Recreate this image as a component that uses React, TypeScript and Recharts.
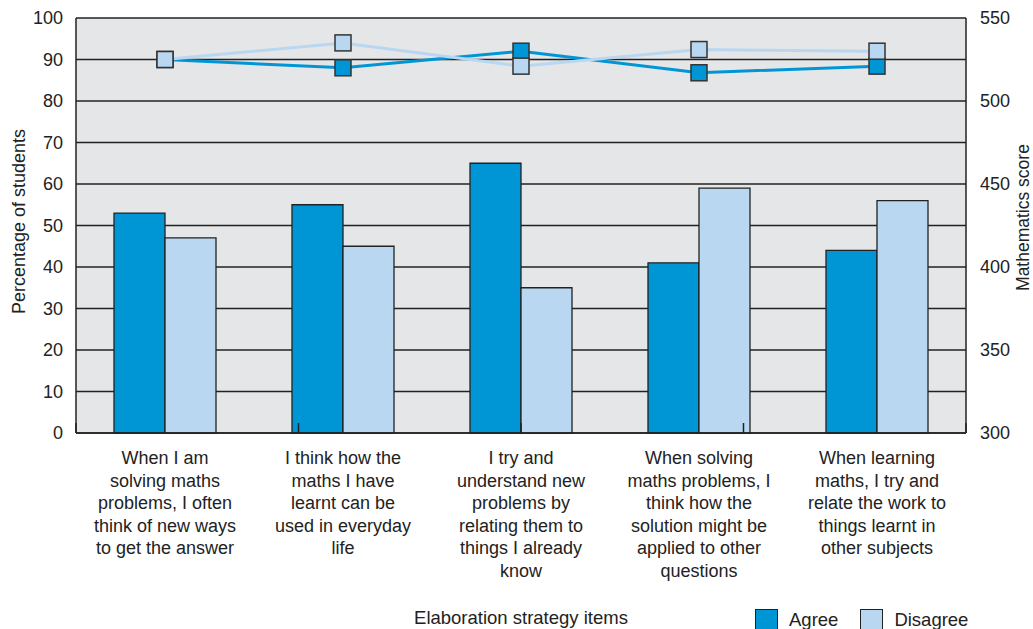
import React from "react";
import { Bar, CartesianGrid, ComposedChart, Legend, Line, XAxis, YAxis } from "recharts";

const items = [
  "When I am|solving maths|problems, I often|think of new ways|to get the answer",
  "I think how the|maths I have|learnt can be|used in everyday|life",
  "I try and|understand new|problems by|relating them to|things I already|know",
  "When solving|maths problems, I|think how the|solution might be|applied to other|questions",
  "When learning|maths, I try and|relate the work to|things learnt in|other subjects"
];

const agreePct = [53, 55, 65, 41, 44];
const disagreePct = [47, 45, 35, 59, 56];
const agreeScore = [525, 520, 530, 517, 521];
const disagreeScore = [525, 535, 521, 531, 530];

const pctTicks = [0, 10, 20, 30, 40, 50, 60, 70, 80, 90, 100];
const scoreTicks = [300, 350, 400, 450, 500, 550];
const boundaryTicks = [0, 1, 2, 3, 4, 5];

const AGREE = "#0096d6";
const DISAGREE = "#b9d7f0";
const INK = "#222";
const FONT = "'Liberation Sans', Arial, sans-serif";
const FS = 18;

const data = items.map((item, i) => ({
  item,
  agreePct: agreePct[i],
  disagreePct: disagreePct[i],
  agreeScore: agreeScore[i],
  disagreeScore: disagreeScore[i]
}));

function CategoryTick({ x, y, payload }: any) {
  const lines = String(payload.value).split("|");
  return (
    <text x={x} y={y + 29} textAnchor="middle" fill={INK} fontSize={FS} fontFamily={FONT}>
      {lines.map((line, i) => (
        <tspan key={i} x={x} dy={i === 0 ? 0 : 22.5}>
          {line}
        </tspan>
      ))}
    </text>
  );
}

function SquareDot({ cx, cy, fill }: any) {
  if (cx == null || cy == null) return null;
  return <rect x={cx - 8} y={cy - 8} width={16} height={16} fill={fill} stroke="#333" strokeWidth={1.5} />;
}

function LeftTitle({ viewBox }: any) {
  const cy = viewBox.y + viewBox.height / 2 - 4;
  return (
    <text x={25} y={cy} transform={`rotate(-90, 25, ${cy})`} textAnchor="middle" fill={INK} fontSize={FS} fontFamily={FONT}>
      Percentage of students
    </text>
  );
}

function RightTitle({ viewBox }: any) {
  const cy = viewBox.y + viewBox.height / 2 - 8;
  return (
    <text x={1029} y={cy} transform={`rotate(-90, 1029, ${cy})`} textAnchor="middle" fill={INK} fontSize={17.5} fontFamily={FONT}>
      Mathematics score
    </text>
  );
}

function LegendContent({ payload }: any) {
  const entries = (payload || []).filter((p: any) => p.type !== "none");
  return (
    <div style={{ display: "flex", alignItems: "flex-start", fontFamily: FONT, fontSize: 18.5, color: INK }}>
      {entries.map((p: any) => (
        <div key={p.value} style={{ display: "flex", alignItems: "flex-start", marginRight: 22 }}>
          <div style={{ width: 21, height: 21, background: p.color, border: `1.5px solid ${INK}`, marginRight: 11 }} />
          <span style={{ lineHeight: "26px", marginTop: -2 }}>{p.value}</span>
        </div>
      ))}
    </div>
  );
}

export default function App() {
  return (
    <div style={{ position: "absolute", left: 0, top: 0, background: "#fff" }}>
      <ComposedChart
        width={1033}
        height={629}
        data={data}
        margin={{ top: 18, right: 0, bottom: 0, left: 0 }}
        barGap={0}
      >
        <CartesianGrid vertical={false} fill="#e5e6e8" stroke={INK} strokeWidth={1.5} yAxisId="pct" />
        <XAxis
          dataKey="item"
          height={196}
          tick={<CategoryTick />}
          tickLine={false}
          axisLine={{ stroke: INK, strokeWidth: 1.5 }}
          tickSize={0}
          interval={0}
          label={{ value: "Elaboration strategy items", position: "insideBottom", offset: 5, fill: INK, fontSize: 18.5, fontFamily: FONT }}
        />
        <XAxis
          xAxisId="sep"
          type="number"
          domain={[0, 5]}
          ticks={boundaryTicks}
          mirror
          axisLine={false}
          tickSize={10}
          tickLine={{ stroke: INK, strokeWidth: 1.5 }}
          tickFormatter={() => ""}
        />
        <YAxis
          yAxisId="pct"
          width={76}
          domain={[0, 100]}
          ticks={pctTicks}
          tickSize={0}
          tickMargin={13}
          axisLine={{ stroke: INK, strokeWidth: 1.5 }}
          tick={{ fill: INK, fontSize: FS, fontFamily: FONT }}
          label={<LeftTitle />}
        />
        <YAxis
          yAxisId="score"
          orientation="right"
          width={67}
          domain={[300, 550]}
          ticks={scoreTicks}
          tickSize={0}
          tickMargin={14}
          axisLine={{ stroke: INK, strokeWidth: 1.5 }}
          tick={{ fill: INK, fontSize: FS, fontFamily: FONT, textAnchor: "start" }}
          label={<RightTitle />}
        />
        <Bar yAxisId="pct" dataKey="agreePct" name="Agree" fill={AGREE} stroke={INK} strokeWidth={1.3} barSize={51} isAnimationActive={false} />
        <Bar yAxisId="pct" dataKey="disagreePct" name="Disagree" fill={DISAGREE} stroke={INK} strokeWidth={1.3} barSize={51} isAnimationActive={false} />
        <Line
          yAxisId="score"
          dataKey="agreeScore"
          stroke={AGREE}
          strokeWidth={3}
          dot={<SquareDot fill={AGREE} />}
          activeDot={false}
          legendType="none"
          isAnimationActive={false}
        />
        <Line
          yAxisId="score"
          dataKey="disagreeScore"
          stroke={DISAGREE}
          strokeWidth={3}
          dot={<SquareDot fill={DISAGREE} />}
          activeDot={false}
          legendType="none"
          isAnimationActive={false}
        />
        <Legend
          layout="horizontal"
          verticalAlign="middle"
          align="center"
          content={<LegendContent />}
          wrapperStyle={{ top: 609, left: 755, width: 278, height: 24 }}
        />
      </ComposedChart>
    </div>
  );
}
